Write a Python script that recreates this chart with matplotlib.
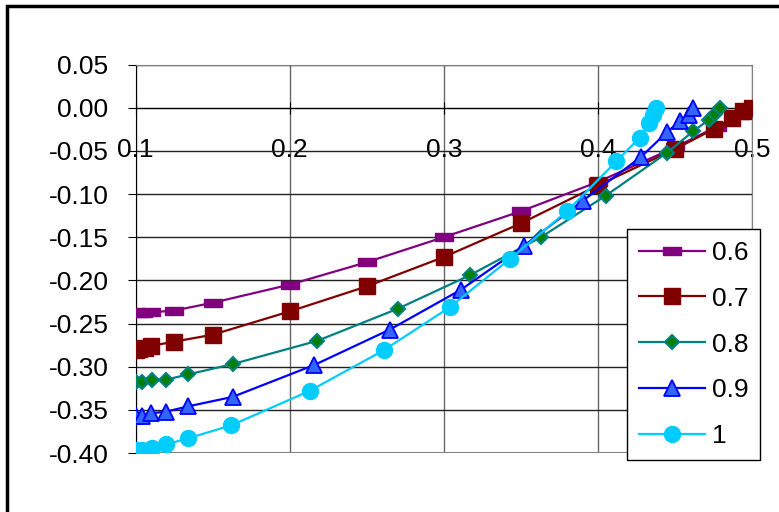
import matplotlib.pyplot as plt
from matplotlib.patches import Rectangle

plt.rcParams['font.family'] = ['Liberation Sans', 'DejaVu Sans']

# data
x06 = [0.1, 0.102, 0.105, 0.11, 0.125, 0.15, 0.2, 0.25, 0.3, 0.35, 0.4, 0.45, 0.477, 0.492, 0.5]
y06 = [-0.237, -0.238, -0.238, -0.237, -0.235, -0.226, -0.205, -0.179, -0.150, -0.120, -0.086, -0.046, -0.022, -0.008, 0.0]

x07 = [0.1, 0.102, 0.106, 0.11, 0.125, 0.15, 0.2, 0.25, 0.3, 0.35, 0.4, 0.45, 0.475, 0.487, 0.494, 0.5]
y07 = [-0.281, -0.280, -0.278, -0.276, -0.271, -0.263, -0.236, -0.207, -0.173, -0.134, -0.090, -0.048, -0.025, -0.012, -0.004, 0.0]

x08 = [0.1, 0.104, 0.111, 0.12, 0.134, 0.163, 0.218, 0.27, 0.317, 0.363, 0.405, 0.445, 0.462, 0.472, 0.476, 0.479]
y08 = [-0.318, -0.318, -0.315, -0.315, -0.309, -0.297, -0.270, -0.233, -0.194, -0.150, -0.102, -0.052, -0.027, -0.014, -0.007, 0.0]

x09 = [0.1, 0.104, 0.11, 0.12, 0.134, 0.163, 0.216, 0.265, 0.311, 0.352, 0.39, 0.428, 0.445, 0.453, 0.459, 0.462]
y09 = [-0.357, -0.357, -0.354, -0.352, -0.346, -0.335, -0.298, -0.257, -0.211, -0.160, -0.108, -0.057, -0.028, -0.016, -0.008, 0.0]

x10 = [0.1, 0.104, 0.111, 0.12, 0.134, 0.162, 0.213, 0.261, 0.304, 0.343, 0.38, 0.412, 0.427, 0.433, 0.436, 0.438]
y10 = [-0.397, -0.397, -0.394, -0.390, -0.383, -0.368, -0.328, -0.281, -0.231, -0.175, -0.120, -0.062, -0.035, -0.018, -0.008, 0.0]

xticks = [0.1, 0.2, 0.3, 0.4, 0.5]
yticks = [0.05, 0.00, -0.05, -0.10, -0.15, -0.20, -0.25, -0.30, -0.35, -0.40]

fig = plt.figure(figsize=(7.79, 5.12), dpi=100)
ax = fig.add_axes([0.174, 0.1152, 0.7914, 0.7588])

# flat rectangle marker for 0.6
flat = [(-1, -0.4), (1, -0.4), (1, 0.4), (-1, 0.4), (-1, -0.4)]

ax.plot(x06, y06, color='#800080', lw=1.6, marker=flat, ms=13, mfc='#800080', mec='#800080', label='0.6', zorder=3)
ax.plot(x07, y07, color='#800000', lw=1.6, marker='s', ms=11, mfc='#800000', mec='#800000', label='0.7', zorder=3)
ax.plot(x08, y08, color='#008080', lw=1.6, marker='D', ms=7, mfc='#008000', mec='#008080', mew=1.5, label='0.8', zorder=3)
ax.plot(x09, y09, color='#0000FF', lw=1.6, marker='^', ms=11, mfc='#3366FF', mec='#0000FF', mew=1.3, label='0.9', zorder=3)
ax.plot(x10, y10, color='#00CCFF', lw=1.6, marker='o', ms=11.5, mfc='#00CCFF', mec='#00CCFF', label='1', zorder=3)

ax.set_xlim(0.1, 0.5)
ax.set_ylim(-0.40, 0.05)
ax.set_xticks(xticks)
ax.set_yticks(yticks)
ax.set_xticklabels(['%.1f' % v for v in xticks])
ax.set_yticklabels(['%.2f' % v for v in yticks])

ax.grid(True, axis='y', color='#222222', lw=1)
ax.grid(True, axis='x', color='#666666', lw=1)
ax.set_axisbelow(True)

ax.spines['bottom'].set_position(('data', 0))
ax.spines['bottom'].set_color('black')
ax.spines['left'].set_color('black')
ax.spines['top'].set_color('#808080')
ax.spines['right'].set_color('#808080')
ax.axhline(-0.40, color='#808080', lw=1.5, zorder=1)

ax.tick_params(axis='y', direction='out', length=6, pad=13.5, labelsize=19, color='black')
ax.tick_params(axis='x', direction='inout', length=8, pad=18, labelsize=19, color='black')

leg = ax.legend(loc='upper left', bbox_to_anchor=(0.805, 0.553), bbox_transform=fig.transFigure,
                fontsize=19, frameon=True, fancybox=False, framealpha=1, edgecolor='black',
                handlelength=2.5, labelspacing=0.83, borderpad=0.45, handletextpad=0.25,
                borderaxespad=0)
leg.get_frame().set_linewidth(1)
leg.set_zorder(5)

# outer border of the chart area
fig.patches.append(Rectangle((0.009, -0.1), 1.2, 1.088, transform=fig.transFigure,
                             fill=False, edgecolor='black', lw=2.5))

fig.savefig('out.png', dpi=100)
